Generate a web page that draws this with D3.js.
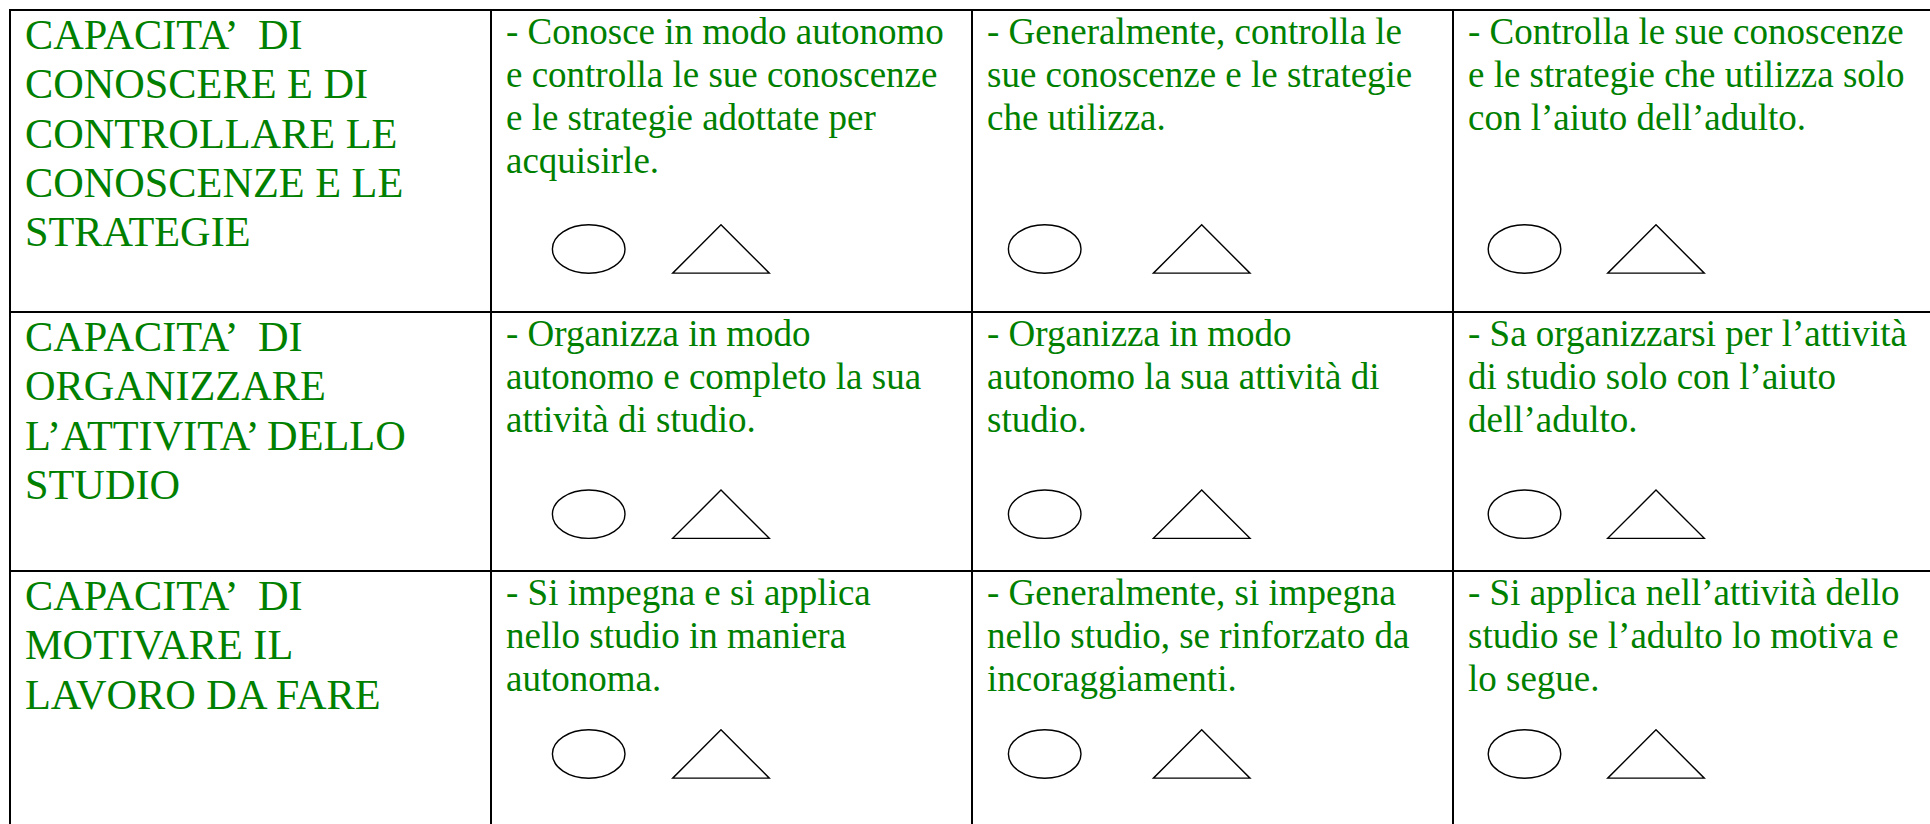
<!DOCTYPE html>
<html>
<head>
<meta charset="utf-8">
<script src="https://cdn.jsdelivr.net/npm/d3@7"></script>
<style>
  html, body { margin: 0; padding: 0; background: #fff; overflow: hidden; }
  svg { display: block; }
</style>
</head>
<body>
<svg id="chart" width="1930" height="824"></svg>
<script>
// ---- data ----
const columns = ["header", "alto", "medio", "basso"];
const rowKeys = ["conoscere", "organizzare", "motivare"];
const rowHeaders = [
  ["CAPACITA\u2019 DI", "CONOSCERE E DI", "CONTROLLARE LE", "CONOSCENZE E LE", "STRATEGIE"],
  ["CAPACITA\u2019 DI", "ORGANIZZARE", "L\u2019ATTIVITA\u2019 DELLO", "STUDIO"],
  ["CAPACITA\u2019 DI", "MOTIVARE IL", "LAVORO DA FARE"]
];
const levelAlto = [
  ["- Conosce in modo autonomo", "e controlla le sue conoscenze", "e le strategie adottate per", "acquisirle."],
  ["- Organizza in modo", "autonomo e completo la sua", "attività di studio."],
  ["- Si impegna e si applica", "nello studio in maniera", "autonoma."]
];
const levelMedio = [
  ["- Generalmente, controlla le", "sue conoscenze e le strategie", "che utilizza."],
  ["- Organizza in modo", "autonomo la sua attività di", "studio."],
  ["- Generalmente, si impegna", "nello studio, se rinforzato da", "incoraggiamenti."]
];
const levelBasso = [
  ["- Controlla le sue conoscenze", "e le strategie che utilizza solo", "con l\u2019aiuto dell\u2019adulto."],
  ["- Sa organizzarsi per l\u2019attività", "di studio solo con l\u2019aiuto", "dell\u2019adulto."],
  ["- Si applica nell\u2019attività dello", "studio se l\u2019adulto lo motiva e", "lo segue."]
];
const levels = [levelAlto, levelMedio, levelBasso];

// ---- layout (not data) ----
const W = 1930, H = 824;
const tableLeft = 10, tableTop = 10, colW = 481;
const rowHeights = [302, 259, 300];
const green = "#008000";
const headerFont = 42.3, headerLine = 49.1, headerBase = 39.3;
const bodyFont = 37.0, bodyLine = 43.1, bodyBase = 33.5;
const padX = 15;
const ellipseDx = [97.7, 72.7, 71.5];
const triApexDx = [230, 229.7, 203];
const shapeCy = [239, 202.2, 183];
const ell = { rx: 36.3, ry: 24.2 }, tri = { w: 96.6, h: 48.3 };

const x = d3.scaleBand().domain(columns).range([tableLeft, tableLeft + colW * columns.length]).padding(0);
const rowTops = rowHeights.reduce((acc, h, i) => { acc.push(i === 0 ? tableTop : acc[i - 1] + rowHeights[i - 1]); return acc; }, []);
const y = d3.scaleOrdinal().domain(rowKeys).range(rowTops);

const svg = d3.select("#chart");
svg.append("rect").attr("width", W).attr("height", H).attr("fill", "#fff");

// grid lines
const gLines = svg.append("g").attr("stroke", "#000").attr("stroke-width", 2);
gLines.selectAll("line.h").data(rowKeys).join("line").attr("class", "h")
  .attr("x1", tableLeft - 1).attr("x2", W + 10)
  .attr("y1", d => y(d)).attr("y2", d => y(d));
gLines.selectAll("line.v").data(columns).join("line").attr("class", "v")
  .attr("x1", d => x(d)).attr("x2", d => x(d))
  .attr("y1", tableTop - 1).attr("y2", H + 10);

// row headers
svg.append("g").selectAll("text.hdr").data(rowKeys).join("text").attr("class", "hdr")
  .attr("font-family", "'Liberation Serif', 'Times New Roman', serif")
  .attr("font-size", headerFont).attr("fill", green)
  .each(function (k, i) {
    d3.select(this).selectAll("tspan").data(rowHeaders[i]).join("tspan")
      .attr("x", x("header") + padX)
      .attr("y", (d, j) => y(k) + headerBase + j * headerLine)
      .attr("word-spacing", (d, j) => j === 0 ? 12 : null)
      .text(d => d);
  });

// level cells
const cells = [];
rowKeys.forEach((k, r) => levels.forEach((lv, c) => cells.push({ row: k, r, col: columns[c + 1], c, lines: lv[r] })));

const gCells = svg.append("g");
const cell = gCells.selectAll("g.cell").data(cells).join("g").attr("class", "cell");
cell.append("text")
  .attr("font-family", "'Liberation Serif', 'Times New Roman', serif")
  .attr("font-size", bodyFont).attr("fill", green)
  .each(function (d) {
    d3.select(this).selectAll("tspan").data(d.lines).join("tspan")
      .attr("x", x(d.col) + padX)
      .attr("y", (t, j) => y(d.row) + bodyBase + j * bodyLine)
      .text(t => t);
  });
cell.append("ellipse")
  .attr("cx", d => x(d.col) + ellipseDx[d.c])
  .attr("cy", d => y(d.row) + shapeCy[d.r])
  .attr("rx", ell.rx).attr("ry", ell.ry)
  .attr("fill", "none").attr("stroke", "#000").attr("stroke-width", 1.4);
cell.append("path")
  .attr("d", d => {
    const ax = x(d.col) + triApexDx[d.c], cy = y(d.row) + shapeCy[d.r];
    const p = d3.path();
    p.moveTo(ax, cy - tri.h / 2);
    p.lineTo(ax + tri.w / 2, cy + tri.h / 2);
    p.lineTo(ax - tri.w / 2, cy + tri.h / 2);
    p.closePath();
    return p.toString();
  })
  .attr("fill", "none").attr("stroke", "#000").attr("stroke-width", 1.4).attr("stroke-linejoin", "miter");
</script>
</body>
</html>
